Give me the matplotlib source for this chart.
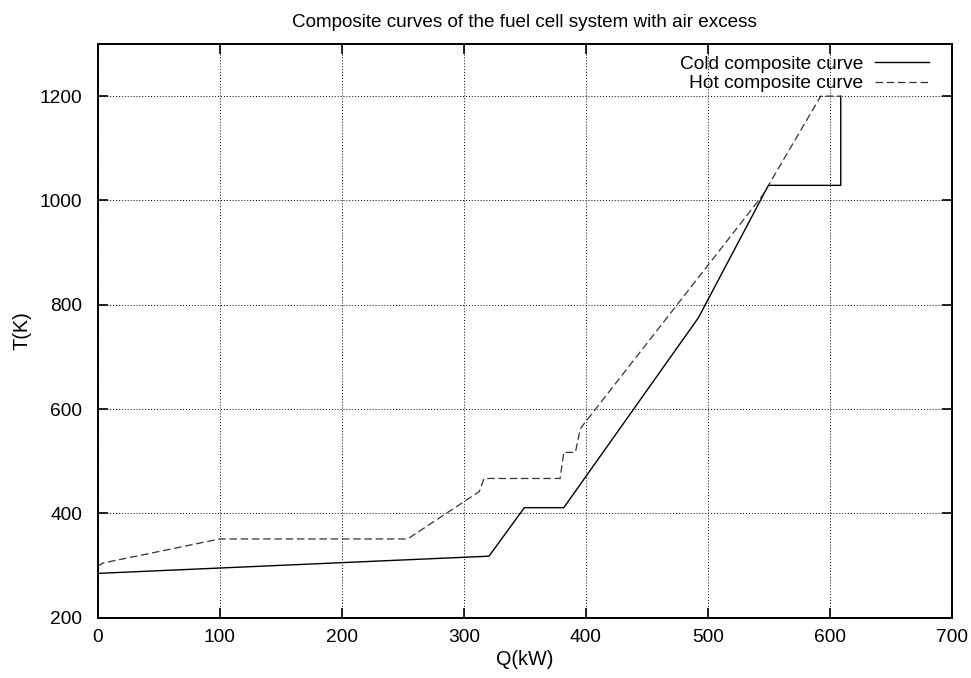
import matplotlib
matplotlib.use("Agg")
import matplotlib.pyplot as plt

# Cold composite curve (Q in kW, T in K)
cold_q = [0, 320.7, 349.7, 382, 492.3, 549.7, 609, 609]
cold_t = [285, 318, 411, 411, 775, 1029, 1029, 1200]

# Hot composite curve
hot_q = [0, 4.6, 100, 254, 312.8, 316.6, 379, 382, 391.5, 395.5, 399, 545, 592.6, 609]
hot_t = [299, 305, 351, 351, 442, 467, 467, 517, 517, 562, 573, 1010, 1200, 1200]

x_ticks = [0, 100, 200, 300, 400, 500, 600, 700]
y_ticks = [200, 400, 600, 800, 1000, 1200]

plt.rcParams.update({
    "font.family": ["Liberation Sans", "DejaVu Sans"],
    "font.size": 13.8,
})

fig = plt.figure(figsize=(9.71, 6.78), dpi=100)
ax = fig.add_axes([0.1006, 0.0889, 0.8796, 0.8462])

ax.plot(cold_q, cold_t, "-", color="black", lw=1.0, label="Cold composite curve")
ax.plot(hot_q, hot_t, color="#333333", lw=0.9, dashes=(6, 3), label="Hot composite curve")

ax.set_xlim(0, 700)
ax.set_ylim(200, 1300)
ax.set_xticks(x_ticks)
ax.set_yticks(y_ticks)
ax.tick_params(direction="in", length=7, width=1.2, top=True, right=True)
ax.tick_params(axis="y", pad=11)
ax.tick_params(axis="x", pad=8)
for s in ax.spines.values():
    s.set_linewidth(1.4)

ax.grid(True, color="black", lw=0.7, linestyle=(0, (1, 2)))

ax.set_xlabel("Q(kW)", labelpad=3, fontsize=14.3)
ax.set_ylabel("T(K)", labelpad=6, fontsize=14.3)
ax.set_title("Composite curves of the fuel cell system with air excess",
             fontsize=13.6, pad=12)

leg = ax.legend(loc="upper right", bbox_to_anchor=(0.987, 1.0), frameon=False,
                markerfirst=False, handlelength=2.85, borderaxespad=0.4,
                labelspacing=0.1, handletextpad=0.6, borderpad=0.2)
for t in leg.get_texts():
    t.set_ha("right")

fig.savefig("out.png", dpi=100)
